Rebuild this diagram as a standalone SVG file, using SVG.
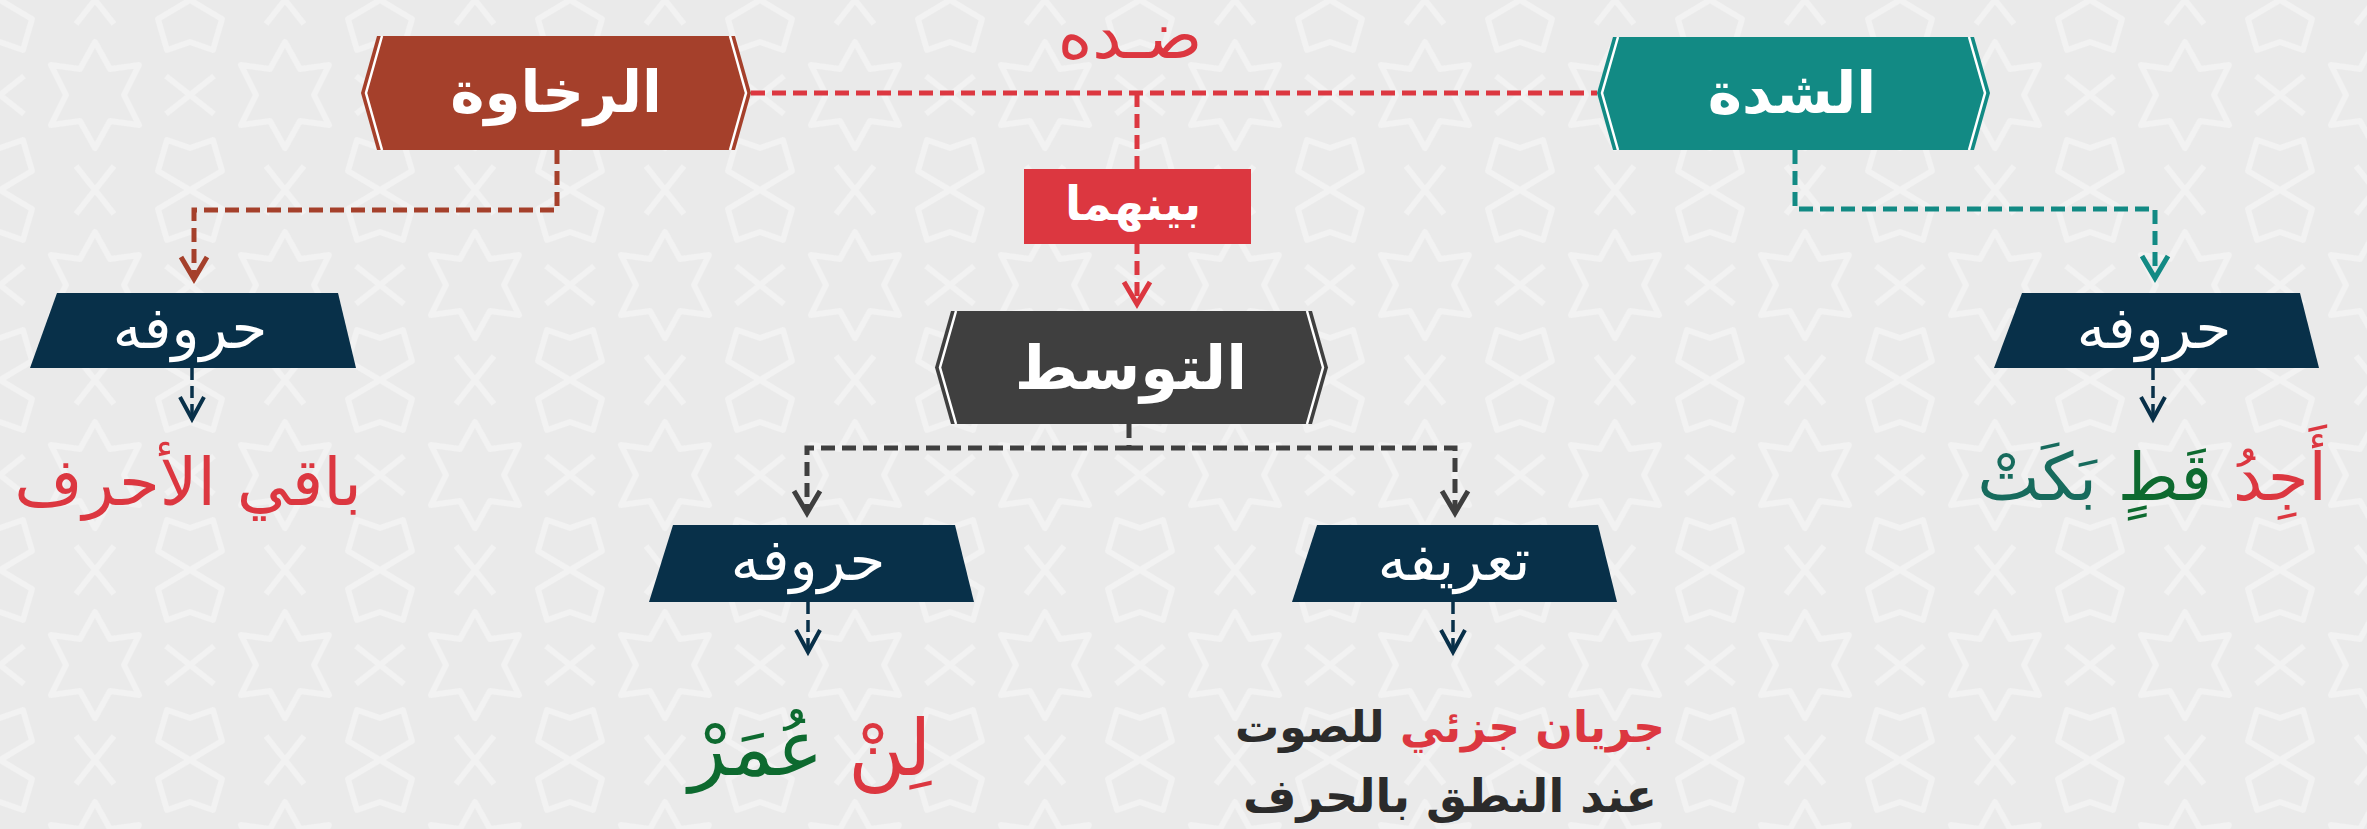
<svg xmlns="http://www.w3.org/2000/svg" width="2367" height="829" viewBox="0 0 2367 829">
<defs>
<pattern id="bgpat" x="0" y="0" width="190" height="190" patternUnits="userSpaceOnUse">
<rect width="190" height="190" fill="#EAEAEA"/>
<g fill="none" stroke="#F6F6F6" stroke-width="6" stroke-linejoin="round" opacity="0.6">
<polygon points="95,42 110,69 139,65 124,95 139,125 110,121 95,148 80,121 51,125 66,95 51,65 80,69"/>
<polygon points="0,0 32,19 23,50 0,42 -23,50 -32,19"/>
<polygon points="190,0 222,19 213,50 190,42 167,50 158,19"/>
<polygon points="0,190 32,171 23,140 0,148 -23,140 -32,171"/>
<polygon points="190,190 222,171 213,140 190,148 167,140 158,171"/>
<path d="M95,0 L76,24 M95,0 L114,24 M95,190 L76,166 M95,190 L114,166 M0,95 L24,76 M0,95 L24,114 M190,95 L166,76 M190,95 L166,114"/>
</g>
</pattern>
<marker id="arRed" viewBox="-30 -20 40 40" refX="0" refY="0" markerWidth="40" markerHeight="40" markerUnits="userSpaceOnUse" orient="auto">
<path d="M-22,-13 L0,0 L-22,13" fill="none" stroke="#DC3740" stroke-width="5"/>
</marker>
<marker id="arBrown" viewBox="-30 -20 40 40" refX="0" refY="0" markerWidth="40" markerHeight="40" markerUnits="userSpaceOnUse" orient="auto">
<path d="M-22,-13 L0,0 L-22,13" fill="none" stroke="#A5402B" stroke-width="5"/>
</marker>
<marker id="arTeal" viewBox="-30 -20 40 40" refX="0" refY="0" markerWidth="40" markerHeight="40" markerUnits="userSpaceOnUse" orient="auto">
<path d="M-22,-13 L0,0 L-22,13" fill="none" stroke="#128A84" stroke-width="5"/>
</marker>
<marker id="arGray" viewBox="-30 -20 40 40" refX="0" refY="0" markerWidth="40" markerHeight="40" markerUnits="userSpaceOnUse" orient="auto">
<path d="M-22,-13 L0,0 L-22,13" fill="none" stroke="#3F3F3F" stroke-width="5"/>
</marker>
<marker id="arNavy" viewBox="-30 -20 40 40" refX="0" refY="0" markerWidth="40" markerHeight="40" markerUnits="userSpaceOnUse" orient="auto">
<path d="M-22,-12 L0,0 L-22,12" fill="none" stroke="#083049" stroke-width="4"/>
</marker>
</defs>
<style>
.ar{font-family:"DejaVu Sans","Noto Sans",sans-serif;direction:rtl;}
.hd{font-size:58px;font-weight:bold;fill:#FFFFFF;text-anchor:middle;}
.tz{font-size:58px;fill:#FFFFFF;text-anchor:middle;}
.dash{fill:none;stroke-width:5;stroke-dasharray:14 7;}
.dashn{fill:none;stroke:#083049;stroke-width:3.5;stroke-dasharray:12 6;}
.inset{fill:none;stroke:#FFFFFF;stroke-width:2.5;}
.trap{fill:#083049;}
.nas{font-size:66px;text-anchor:middle;}
.def{font-size:44px;font-weight:bold;text-anchor:middle;fill:#2B2B2B;}
</style>
<rect x="0" y="0" width="2367" height="829" fill="url(#bgpat)"/>

<g id="connectors">
<path class="dash" stroke="#DC3740" d="M751,93 L1597,93"/>
<path class="dash" stroke="#DC3740" d="M1137,93 L1137,304" marker-end="url(#arRed)"/>
<path class="dash" stroke="#A5402B" d="M557,150 L557,210 L194,210 L194,279" marker-end="url(#arBrown)"/>
<path class="dash" stroke="#128A84" d="M1795,150 L1795,209 L2155,209 L2155,278" marker-end="url(#arTeal)"/>
<path class="dash" stroke="#3F3F3F" d="M1129,424 L1129,448"/>
<path class="dash" stroke="#3F3F3F" d="M1129,448 L807,448 L807,513" marker-end="url(#arGray)"/>
<path class="dash" stroke="#3F3F3F" d="M1129,448 L1455,448 L1455,513" marker-end="url(#arGray)"/>
<path class="dashn" d="M192,368 L192,419" marker-end="url(#arNavy)"/>
<path class="dashn" d="M2153,368 L2153,419" marker-end="url(#arNavy)"/>
<path class="dashn" d="M808,602 L808,652" marker-end="url(#arNavy)"/>
<path class="dashn" d="M1453,602 L1453,652" marker-end="url(#arNavy)"/>
</g>

<g id="node-rakhawa">
<polygon points="377,36 735,36 751,93 735,150 377,150 361,93" fill="#A5402B"/>
<polyline class="inset" points="382,36 366,93 382,150"/>
<polyline class="inset" points="730,36 746,93 730,150"/>
<text class="ar hd" x="556" y="112">الرخاوة</text>
</g>

<g id="node-shidda">
<polygon points="1613,37 1974,37 1990,93 1974,150 1613,150 1597,93" fill="#128A84"/>
<polyline class="inset" points="1618,37 1602,93 1618,150"/>
<polyline class="inset" points="1969,37 1985,93 1969,150"/>
<text class="ar hd" x="1792" y="113">الشدة</text>
</g>

<g id="label-didduh">
<text class="ar" x="1130" y="58" font-size="66" fill="#DC3740" text-anchor="middle">ضـده</text>
</g>

<g id="node-baynahuma">
<rect x="1024" y="169" width="227" height="75" fill="#DC3740"/>
<text class="ar" x="1133" y="220" font-size="47" font-weight="bold" fill="#FFFFFF" text-anchor="middle">بينهما</text>
</g>

<g id="node-tawassut">
<polygon points="951,311 1312,311 1328,367.5 1312,424 951,424 935,367.5" fill="#3F3F3F"/>
<polyline class="inset" points="956,311 940,367.5 956,424"/>
<polyline class="inset" points="1307,311 1323,367.5 1307,424"/>
<text class="ar hd" x="1131" y="389" style="font-size:61px">التوسط</text>
</g>

<g id="node-left-huruf">
<polygon class="trap" points="57,293 338,293 356,368 30,368"/>
<text class="ar tz" x="190" y="348">حروفه</text>
</g>

<g id="node-right-huruf">
<polygon class="trap" points="2022,293 2300,293 2319,368 1994,368"/>
<text class="ar tz" x="2154" y="348">حروفه</text>
</g>

<g id="node-mid-huruf">
<polygon class="trap" points="673,525 955,525 974,602 649,602"/>
<text class="ar tz" x="808" y="580">حروفه</text>
</g>

<g id="node-tarifuh">
<polygon class="trap" points="1317,525 1598,525 1617,602 1292,602"/>
<text class="ar tz" x="1454" y="580">تعريفه</text>
</g>

<g id="text-baqi">
<text class="ar nas" x="188" y="505" fill="#DC3740">باقي الأحرف</text>
</g>

<g id="text-ajid">
<text class="ar nas" x="2152" y="500"><tspan fill="#DC3740">أَجِدُ</tspan> <tspan fill="#0D6A2F">قَطٍ</tspan> <tspan fill="#176B5D">بَكَتْ</tspan></text>
</g>

<g id="text-lin">
<text class="ar nas" x="810" y="775" style="font-size:78px"><tspan fill="#DC3740">لِنْ</tspan> <tspan fill="#0D6A2F">عُمَرْ</tspan></text>
</g>

<g id="text-def">
<text class="ar def" x="1450" y="742"><tspan fill="#DC3740">جريان جزئي</tspan> <tspan fill="#2B2B2B">للصوت</tspan></text>
<text class="ar def" x="1450" y="812" style="font-size:46px">عند النطق بالحرف</text>
</g>
</svg>
